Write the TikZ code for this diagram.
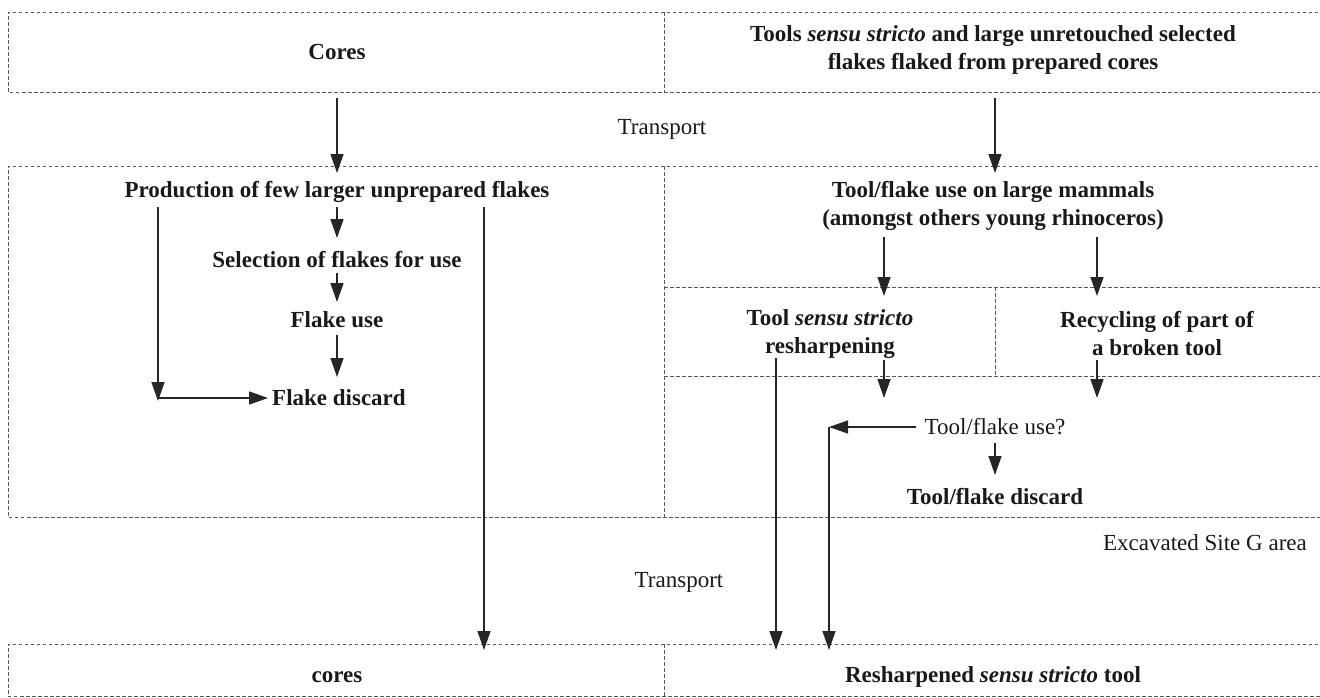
\documentclass[tikz,border=0pt]{standalone}
\usepackage{fontspec}
\setmainfont{Liberation Serif}
\usetikzlibrary{arrows.meta}
\begin{document}
\begin{tikzpicture}[x=1pt,y=-1pt,
  every node/.style={font=\fontsize{23}{28}\selectfont, inner sep=0pt, align=center, text=black!90},
  stage/.style={font=\fontsize{23}{28}\selectfont\bfseries},
  note/.style={font=\fontsize{23}{28}\selectfont},
  frame/.style={draw=black!65, line width=0.9pt, dash pattern=on 3.5pt off 2.5pt},
  arr/.style={draw=black!85, line width=1.4pt, -{Triangle[length=19pt,width=13pt]}}]
\useasboundingbox (0,0) rectangle (1320,697);

% ---- dashed frames (open on the right) ----
\draw[frame] (1330,12) -- (8,12) -- (8,92) -- (1330,92);
\draw[frame] (664,12) -- (664,92);
\draw[frame] (1330,166) -- (8,166) -- (8,517) -- (1330,517);
\draw[frame] (664,166) -- (664,517);
\draw[frame] (664,287) -- (1330,287);
\draw[frame] (664,376) -- (1330,376);
\draw[frame] (995,287) -- (995,376);
\draw[frame] (1330,644) -- (8,644) -- (8,696) -- (1330,696);
\draw[frame] (664,644) -- (664,696);

% ---- reference levels ----
\coordinate (lvlMid) at (0,173);
\coordinate (lvlInner) at (0,296);
\coordinate (lvlLow) at (0,398);
\coordinate (lvlBot) at (0,650);

% ---- texts ----
\node[stage] (cores) at (337,52) {Cores};
\node[stage] (tools) at (993,50) {Tools \textit{sensu stricto} and large unretouched selected\\flakes flaked from prepared cores};
\node[note] (transA) at (662,129) {Transport};

\node[stage] (prod) at (337,192) {Production of few larger unprepared flakes};
\node[stage] (sel) at (337,260) {Selection of flakes for use};
\node[stage] (use) at (337,320) {Flake use};
\node[stage, anchor=west] (disc) at (272,398) {Flake discard};

\node[stage] (mam) at (993,206) {Tool/flake use on large mammals\\(amongst others young rhinoceros)};
\node[stage] (resh) at (830,334) {Tool \textit{sensu stricto}\\resharpening};
\node[stage] (recy) at (1157,334) {Recycling of part of\\a broken tool};
\node[note] (tfuse) at (995,427) {Tool/flake use?};
\node[stage] (tfdisc) at (995,497) {Tool/flake discard};

\node[note, anchor=east] (site) at (1307,543) {Excavated Site G area};
\node[note] (transB) at (679,582) {Transport};

\node[stage] (cores2) at (337,677) {cores};
\node[stage] (rtool) at (993,677) {Resharpened \textit{sensu stricto} tool};

% ---- start points of connectors ----
\coordinate (coresOut) at (337,98);
\coordinate (toolsOut) at (995,98);
\coordinate (prodOut) at (337,207);
\coordinate (prodLeft) at (158,207);
\coordinate (prodRight) at (484,207);
\coordinate (discCorner) at (158,398);
\coordinate (mamLeft) at (884,237);
\coordinate (mamRight) at (1097,237);
\coordinate (reshOut) at (884,360);
\coordinate (reshDown) at (776,358);
\coordinate (recyOut) at (1097,360);
\coordinate (useBend) at (829,427);

% ---- connectors ----
\draw[arr] (coresOut) -- (coresOut |- lvlMid);
\draw[arr] (toolsOut) -- (toolsOut |- lvlMid);

\draw[arr] (prodOut) -- (337,238);
\draw[arr] ([yshift=-5pt]sel.south) -- (337,302);
\draw[arr] ([yshift=-7pt]use.south) -- (337,377);
\draw[arr] (prodLeft) -- ([yshift=-3pt]discCorner);
\draw[arr] (discCorner) -- ([xshift=-4pt]disc.west);
\draw[arr] (prodRight) -- (prodRight |- lvlBot);

\draw[arr] (mamLeft) -- (mamLeft |- lvlInner);
\draw[arr] (mamRight) -- (mamRight |- lvlInner);
\draw[arr] (reshOut) -- (reshOut |- lvlLow);
\draw[arr] (recyOut) -- (recyOut |- lvlLow);
\draw[arr] (reshDown) -- (reshDown |- lvlBot);

\draw[arr] ([xshift=-8pt]tfuse.west) -- (useBend);
\draw[arr] (useBend) -- (useBend |- lvlBot);
\draw[arr] ([yshift=-8pt]tfuse.south) -- (995,475);
\end{tikzpicture}
\end{document}
